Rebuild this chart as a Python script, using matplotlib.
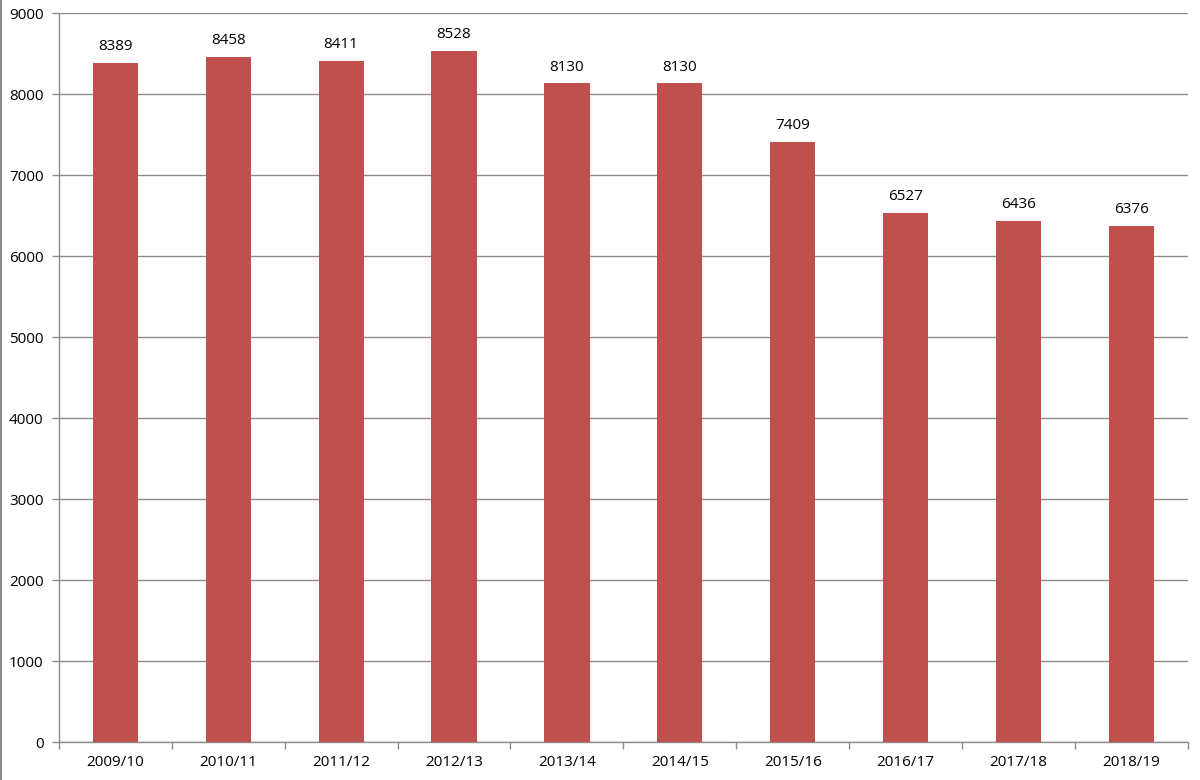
import matplotlib.pyplot as plt
from matplotlib.lines import Line2D

seasons = ['2009/10', '2010/11', '2011/12', '2012/13', '2013/14',
           '2014/15', '2015/16', '2016/17', '2017/18', '2018/19']
values = [8389, 8458, 8411, 8528, 8130, 8130, 7409, 6527, 6436, 6376]
y_ticks = list(range(0, 9001, 1000))


def main():
    plt.rcParams['font.family'] = ['Open Sans', 'DejaVu Sans']
    fig = plt.figure(figsize=(12, 7.8), dpi=100)
    ax = fig.add_axes([0.049, 0.0487, 0.941, 0.9346])

    xs = list(range(len(seasons)))
    bars = ax.bar(xs, values, width=0.4, color='#C0504D', zorder=3)
    for b, v in zip(bars, values):
        ax.text(b.get_x() + b.get_width() / 2, v + 110, str(v),
                ha='center', va='bottom', fontsize=11, color='black')

    ax.set_xlim(-0.5, len(seasons) - 0.5)
    ax.set_ylim(0, 9000)
    ax.set_yticks(y_ticks)
    ax.set_yticklabels([str(t) for t in y_ticks], fontsize=11)
    ax.set_xticks(xs)
    ax.set_xticklabels(seasons, fontsize=11)
    ax.tick_params(axis='x', length=0, pad=9)
    ax.set_xticks([i - 0.5 for i in range(len(seasons) + 1)], minor=True)
    ax.tick_params(axis='x', which='minor', length=5, color='#8c8c8c', width=1)
    ax.tick_params(axis='y', length=5, color='#8c8c8c', width=1, pad=6)

    ax.grid(axis='y', color='#8c8c8c', linewidth=1, zorder=0)
    for side in ('top', 'right'):
        ax.spines[side].set_visible(False)
    for side in ('left', 'bottom'):
        ax.spines[side].set_color('#8c8c8c')
        ax.spines[side].set_linewidth(1)

    fig.add_artist(Line2D([0.001, 0.001], [0, 1], color='#8c8c8c',
                          linewidth=1.5, transform=fig.transFigure))

    fig.savefig('out.png', dpi=100)


if __name__ == '__main__':
    main()
